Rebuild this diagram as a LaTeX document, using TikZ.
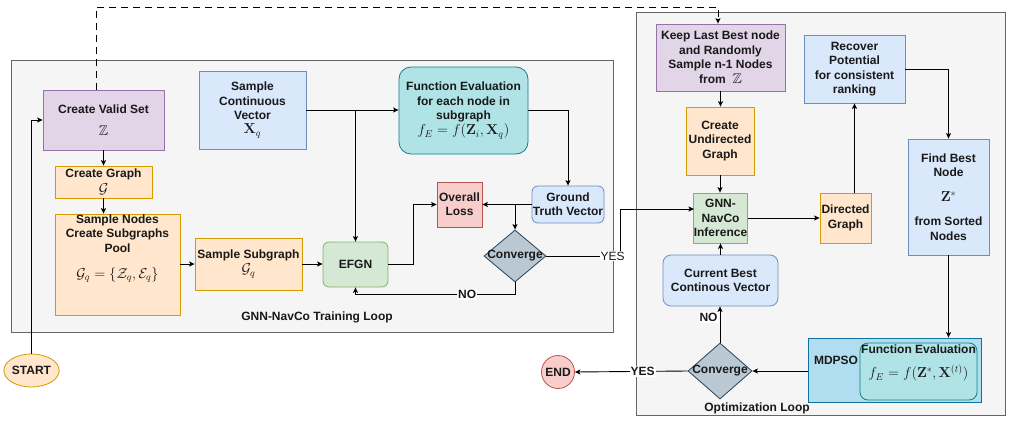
\documentclass[tikz,border=0pt]{standalone}
\usepackage[no-math]{fontspec}
\setmainfont{Liberation Sans}
\usepackage{amsmath,amssymb}
\usetikzlibrary{shapes.geometric,arrows.meta}
\definecolor{pfill}{HTML}{E1D5E7}\definecolor{pdraw}{HTML}{9673A6}
\definecolor{ofill}{HTML}{FFE6CC}\definecolor{odraw}{HTML}{D79B00}
\definecolor{bfill}{HTML}{DAE8FC}\definecolor{bdraw}{HTML}{6C8EBF}
\definecolor{gfill}{HTML}{D5E8D4}\definecolor{gdraw}{HTML}{82B366}
\definecolor{rfill}{HTML}{F8CECC}\definecolor{rdraw}{HTML}{B85450}
\definecolor{tfill}{HTML}{B0E3E6}\definecolor{tdraw}{HTML}{0E8088}
\definecolor{dfill}{HTML}{BAC8D3}\definecolor{ddraw}{HTML}{23445D}
\definecolor{mfill}{HTML}{B1DDF0}\definecolor{mdraw}{HTML}{10739E}
\definecolor{cfill}{HTML}{F5F5F5}\definecolor{cdraw}{HTML}{666666}
\newcommand{\mth}[1]{{\fontsize{14}{16}\selectfont$#1$}}
\begin{document}
\begin{tikzpicture}[x=1pt,y=-1pt,
  every node/.style={font=\fontsize{12}{14.4}\selectfont\bfseries, align=center, inner sep=0pt, text=black!90},
  base/.style={draw, line width=0.8pt},
  pbox/.style={base, fill=pfill, draw=pdraw},
  obox/.style={base, fill=ofill, draw=odraw},
  bbox/.style={base, fill=bfill, draw=bdraw},
  gbox/.style={base, fill=gfill, draw=gdraw},
  rbox/.style={base, fill=rfill, draw=rdraw},
  tbox/.style={base, fill=tfill, draw=tdraw},
  mbox/.style={base, fill=mfill, draw=mdraw},
  cont/.style={base, fill=cfill, draw=cdraw},
  diam/.style={base, diamond, fill=dfill, draw=ddraw},
  arr/.style={line width=0.9pt, -{Stealth[length=5.5pt,width=5pt,inset=1.2pt]}},
  lbl/.style={fill=white, inner sep=1pt},
]
\useasboundingbox (0,0) rectangle (1012,423);
% containers
\node[cont, minimum width=602, minimum height=272] (leftc) at (312,196) {};
\node[cont, minimum width=369, minimum height=403] (rightc) at (820.5,213.5) {};
\node (leftlbl) at (317,317) {GNN-NavCo Training Loop};
\node (rightlbl) at (757,408) {Optimization Loop};

% left loop nodes
\node[pbox, minimum width=121, minimum height=60] (valid) at (103.5,120) {Create Valid Set\\[8pt]\mth{\mathbb{Z}}};
\node[obox, minimum width=97, minimum height=32] (cgraph) at (103.5,182) {Create Graph\\[1pt]\mth{\mathcal{G}}};
\node[obox, minimum width=125, minimum height=101] (pool) at (117.5,264.5) {};
\node[anchor=north] (pooltxt) at ([yshift=-1pt]pool.north) {Sample Nodes\\Create Subgraphs\\Pool\\[12pt]\mth{\mathcal{G}_q=\{\mathcal{Z}_q,\mathcal{E}_q\}}};
\node[obox, minimum width=107, minimum height=52] (subg) at (248.5,264) {Sample Subgraph\\[1pt]\mth{\mathcal{G}_q}};
\node[bbox, minimum width=107, minimum height=78] (scv) at (252.5,110) {Sample\\Continuous\\Vector\\\mth{\mathbf{X}_q}};
\node[gbox, rounded corners=6pt, minimum width=65, minimum height=45] (efgn) at (355.5,264.5) {EFGN};
\node[tbox, rounded corners=12pt, minimum width=129, minimum height=87] (fe) at (463.5,110.5) {Function Evaluation\\for each node in\\subgraph\\[1pt]\mth{f_E=f(\mathbf{Z}_i,\mathbf{X}_q)}};
\node[bbox, rounded corners=6pt, minimum width=72, minimum height=37] (gt) at (568,204.5) {Ground\\Truth Vector};
\node[rbox, minimum width=45, minimum height=45] (loss) at (459.5,204.5) {Overall\\Loss};
\node[diam, minimum width=62, minimum height=52] (conv1) at (515,256) {};
\node (conv1t) at (515,256) {Converge};
\node[obox, ellipse, minimum width=49, minimum height=33] (start) at (31.5,370.5) {START};

% right loop nodes
\node[pbox, minimum width=129, minimum height=67] (keep) at (720.5,57.5) {Keep Last Best node\\and Randomly\\Sample n-1 Nodes\\[1pt]from \ \mth{\mathbb{Z}}};
\node[obox, minimum width=68, minimum height=68] (undir) at (720,141) {Create\\Undirected\\Graph};
\node[gbox, minimum width=53, minimum height=50] (gnn) at (720.5,218) {GNN-\\NavCo\\Inference};
\node[obox, minimum width=51, minimum height=50] (dirg) at (845.5,218) {Directed\\Graph};
\node[bbox, minimum width=101, minimum height=68] (recov) at (854.5,69) {Recover\\Potential\\for consistent\\ranking};
\node[bbox, minimum width=81, minimum height=116] (fbn) at (948.5,197) {Find Best\\Node\\[10pt]\mth{\mathbf{Z}^{*}}\\[10pt]from Sorted\\Nodes};
\node[mbox, minimum width=173, minimum height=64] (mdpso) at (894.5,370) {};
\node (mdpsot) at (836,360) {MDPSO};
\node[tbox, rounded corners=8pt, minimum width=117, minimum height=57] (fe2) at (918.5,371.5) {};
\node[anchor=north] (fe2t) at ([yshift=-2pt]fe2.north) {Function Evaluation\\[10pt]\mth{f_E=f(\mathbf{Z}^{*},\mathbf{X}^{(t)})}};
\node[diam, minimum width=64, minimum height=56] (conv2) at (720,371) {};
\node (conv2t) at (720,371) {Converge};
\node[bbox, rounded corners=8pt, minimum width=115, minimum height=51] (cbcv) at (720.5,280.5) {Current Best\\Continous Vector};
\node[rbox, circle, minimum size=33] (endn) at (558,372) {END};

% coordinates
\coordinate (dtop) at (96,7);
\coordinate (yj) at (620,256);
\coordinate (gnnin) at (694,209);

% connectors
\draw[arr, dash pattern=on 7pt off 5pt] ([xshift=-7.5pt]valid.north) -- (dtop) -| ([xshift=-2.5pt]keep.north);
\draw[arr] (start.north) |- (valid.west);
\draw[arr] (valid.south) -- (cgraph.north);
\draw[arr] (cgraph.south) -- (cgraph.south |- pool.north);
\draw[arr] (pool.east |- subg.west) -- (subg.west);
\draw[arr] (subg.east) -- (subg.east -| efgn.west);
\draw[arr] (scv.east) -- (scv.east -| fe.west);
\draw[arr] (efgn.north |- scv.east) -- (efgn.north);
\draw[arr] (fe.east) -| (gt.north);
\draw[arr] (gt.west) -- (loss.east);
\draw[arr] (conv1.north |- gt.west) -- (conv1.north);
\draw[arr] (efgn.east |- subg.east) -- ++(25,0) |- (loss.west);
\draw[arr] (conv1.south) -- ++(0,12) -| node[lbl, pos=0.15] {NO} (efgn.south);
\draw[arr] (conv1.east) -- node[lbl, pos=0.9, font=\fontsize{12}{14.4}\selectfont] {YES} (yj) |- (gnnin);

\draw[arr] (keep.south) -- (keep.south |- undir.north);
\draw[arr] (undir.south) -- (undir.south |- gnn.north);
\draw[arr] (gnn.east) -- (dirg.west);
\draw[arr] (recov.south |- dirg.north) -- (recov.south);
\draw[arr] (recov.east) -| (fbn.north);
\draw[arr] (fbn.south) -- (fbn.south |- mdpso.north);
\draw[arr] (mdpso.west |- conv2.east) -- (conv2.east);
\draw[arr] (conv2.north) -- node[lbl, pos=0.7, left, xshift=-1pt] {NO} (conv2.north |- cbcv.south);
\draw[arr] (cbcv.north) -- (cbcv.north |- gnn.south);
\draw[arr] (conv2.west) -- node[lbl, pos=0.4] {YES} (endn.east);
\end{tikzpicture}
\end{document}
